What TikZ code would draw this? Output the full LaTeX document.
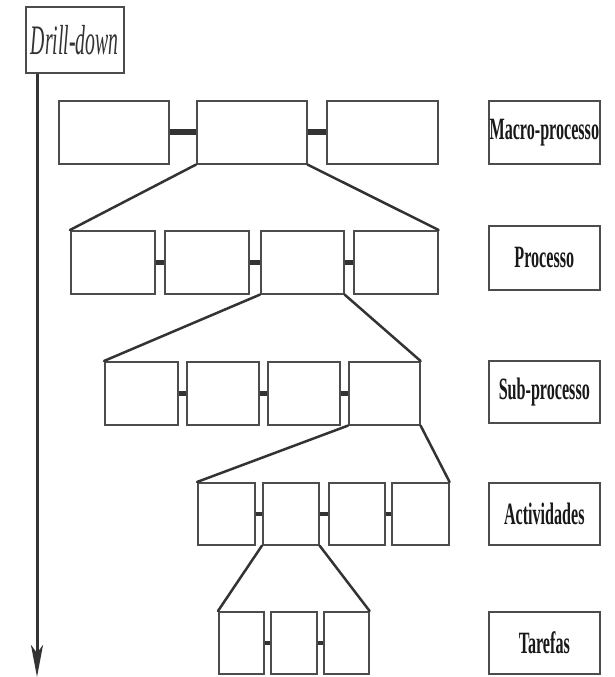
\documentclass[tikz,border=0pt]{standalone}
\usepackage{fontspec}
\usetikzlibrary{arrows.meta}
\newfontfamily\lblfont[FakeStretch=0.52]{Liberation Serif}
\newfontfamily\ddfont[FakeStretch=0.47]{Liberation Serif}
\begin{document}
\begin{tikzpicture}[x=1pt,y=-1pt,
  blk/.style={draw=black!70, line width=1.6pt, fill=white, inner sep=0pt,
    anchor=north west},
  lvl/.style={blk, text=black!90, font=\lblfont\bfseries\fontsize{31}{31}\selectfont},
  bar/.style={line width=6pt, draw=black!80},
  thinbar/.style={line width=4.5pt, draw=black!80},
  fan/.style={line width=2.5pt, draw=black!80, line cap=round},
  axis/.style={line width=3pt, draw=black!80,
    -{Stealth[length=32pt,width=12pt,inset=8pt]}}]
\useasboundingbox (0,0) rectangle (615,677);

% vertical drill-down axis
\node[blk, minimum width=98pt, minimum height=66pt, text=black!80,
  font=\ddfont\itshape\fontsize{42}{42}\selectfont] (dd) at (25,6) {Drill-down};
\coordinate (ddend) at (37,677);
\draw[axis] (dd.south west) ++(12,0) -- (ddend);

% macro-process level
\node[blk, minimum width=110pt, minimum height=63pt] (m1) at (58,100) {};
\node[blk, minimum width=110pt, minimum height=63pt] (m2) at (196,100) {};
\node[blk, minimum width=111pt, minimum height=63pt] (m3) at (326,100) {};
\draw[bar] (m1.east) -- (m2.west);
\draw[bar] (m2.east) -- (m3.west);

% process level
\node[blk, minimum width=84pt, minimum height=63pt] (p1) at (70,230) {};
\node[blk, minimum width=84pt, minimum height=63pt] (p2) at (164,230) {};
\node[blk, minimum width=83pt, minimum height=63pt] (p3) at (260,230) {};
\node[blk, minimum width=84pt, minimum height=63pt] (p4) at (353,230) {};
\draw[thinbar] (p1.east) -- (p2.west);
\draw[thinbar] (p2.east) -- (p3.west);
\draw[thinbar] (p3.east) -- (p4.west);
\draw[fan] (m2.south west) -- (p1.north west);
\draw[fan] (m2.south east) -- (p4.north east);

% sub-process level
\node[blk, minimum width=73pt, minimum height=63pt] (s1) at (104,361) {};
\node[blk, minimum width=72pt, minimum height=63pt] (s2) at (186,361) {};
\node[blk, minimum width=72pt, minimum height=63pt] (s3) at (267,361) {};
\node[blk, minimum width=71pt, minimum height=63pt] (s4) at (348,361) {};
\draw[thinbar] (s1.east) -- (s2.west);
\draw[thinbar] (s2.east) -- (s3.west);
\draw[thinbar] (s3.east) -- (s4.west);
\draw[fan] (p3.south west) -- (s1.north west);
\draw[fan] (p3.south east) -- (s4.north east);

% activity level
\node[blk, minimum width=57pt, minimum height=62pt] (a1) at (197,482) {};
\node[blk, minimum width=56pt, minimum height=62pt] (a2) at (262,482) {};
\node[blk, minimum width=56pt, minimum height=62pt] (a3) at (328,482) {};
\node[blk, minimum width=57pt, minimum height=62pt] (a4) at (391,482) {};
\draw[thinbar] (a1.east) -- (a2.west);
\draw[thinbar] (a2.east) -- (a3.west);
\draw[thinbar] (a3.east) -- (a4.west);
\draw[fan] (s4.south west) -- (a1.north west);
\draw[fan] (s4.south east) -- (a4.north east);

% task level
\node[blk, minimum width=45pt, minimum height=62pt] (t1) at (218,611) {};
\node[blk, minimum width=46pt, minimum height=62pt] (t2) at (270,611) {};
\node[blk, minimum width=45pt, minimum height=62pt] (t3) at (323,611) {};
\draw[thinbar] (t1.east) -- (t2.west);
\draw[thinbar] (t2.east) -- (t3.west);
\draw[fan] (a2.south west) -- (t1.north west);
\draw[fan] (a2.south east) -- (t3.north east);

% level labels
\node[lvl, minimum width=111pt, minimum height=63pt] (lm) at (488,100) {Macro-processo};
\node[lvl, minimum width=111pt, minimum height=64pt] (lp) at (488,225) {Processo};
\node[lvl, minimum width=111pt, minimum height=62pt] (ls) at (488,360) {Sub-processo};
\node[lvl, minimum width=111pt, minimum height=62pt] (la) at (488,482) {Actividades};
\node[lvl, minimum width=111pt, minimum height=62pt] (lt) at (488,611) {Tarefas};
\end{tikzpicture}
\end{document}
